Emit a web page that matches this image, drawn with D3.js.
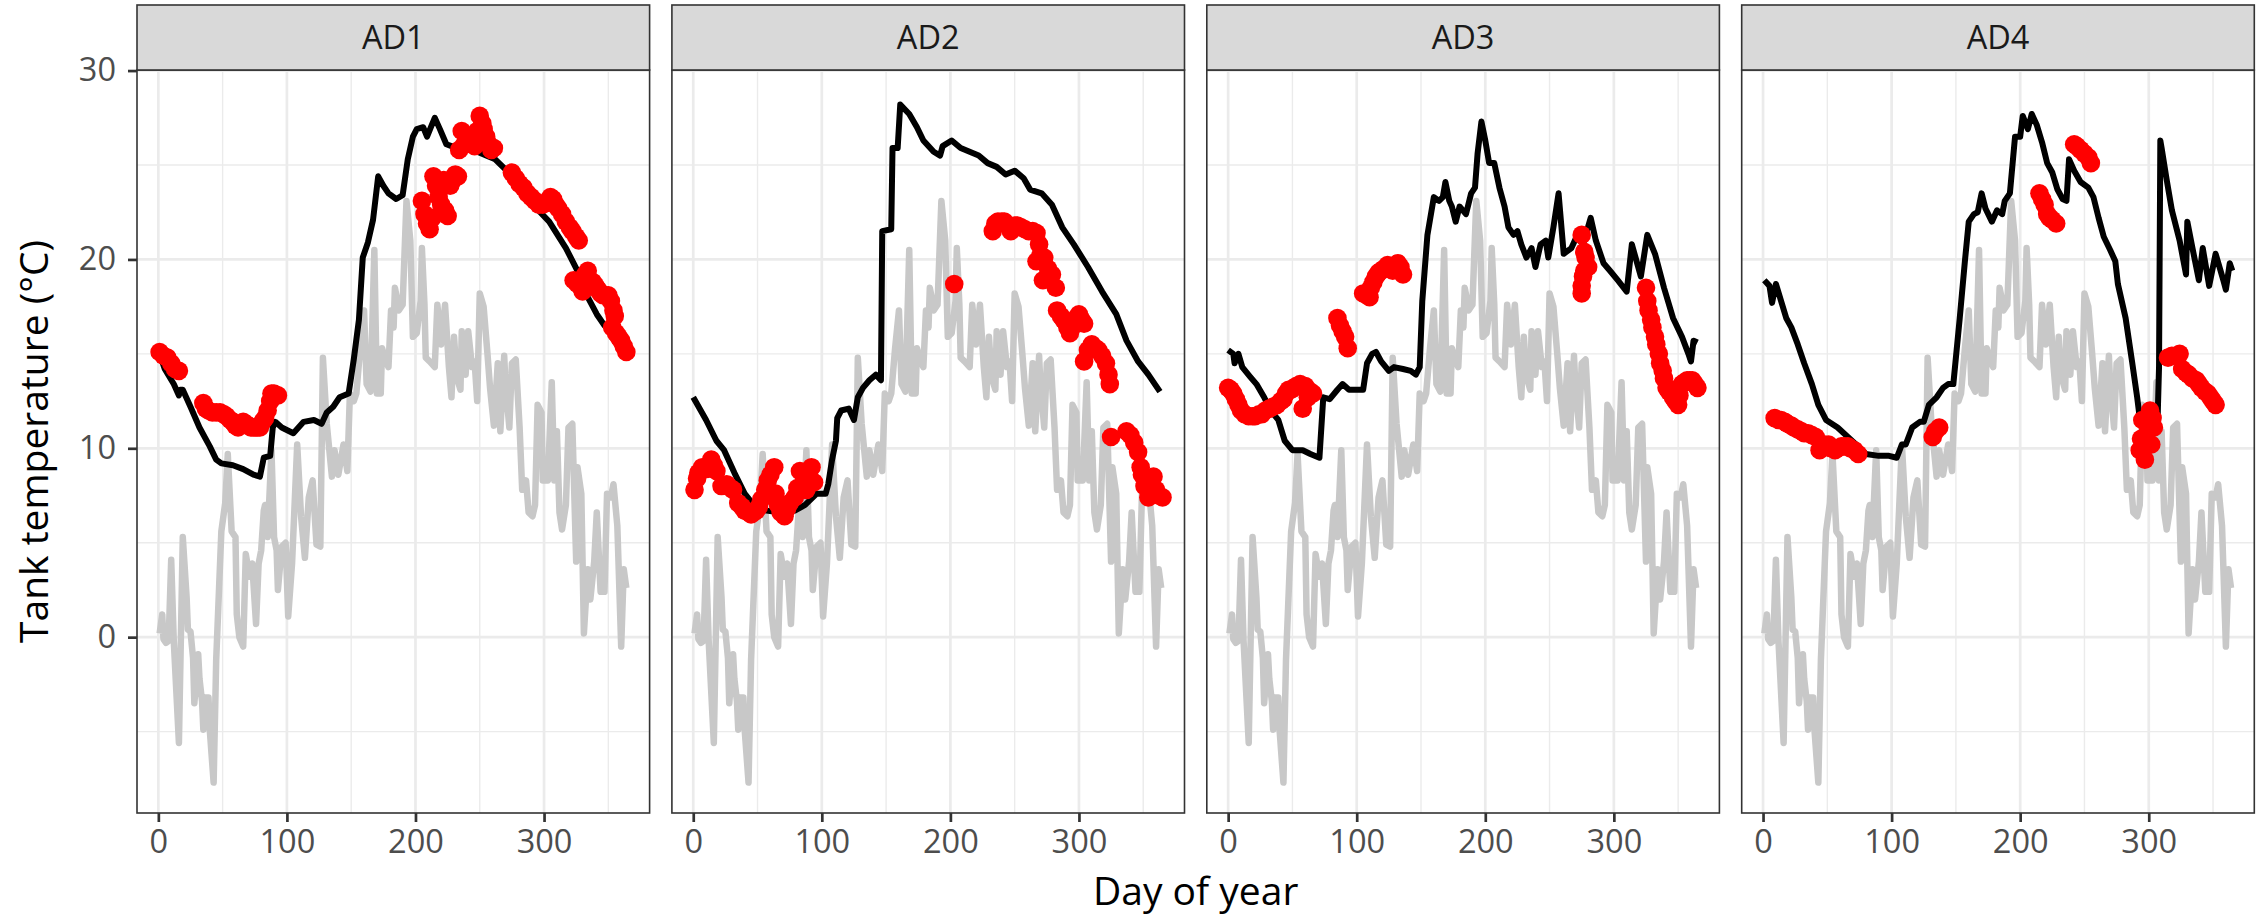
<!DOCTYPE html>
<html><head><meta charset="utf-8">
<script src="https://cdn.jsdelivr.net/npm/d3@7"></script>
<style>
body{margin:0;background:#fff;}
svg{display:block;font-family:"Open Sans",sans-serif;}
</style></head><body>
<svg id="chart" width="2259" height="916"></svg>
<script>
// ---------------- DATA ----------------
const panelNames = ["AD1", "AD2", "AD3", "AD4"];
const xTicks = [0, 100, 200, 300];
const yTicks = [0, 10, 20, 30];
const xTitle = "Day of year";
const yTitle = "Tank temperature (°C)";

// air temperature (grey line), identical in all panels: [day, °C]
const airTemp = [[1,0.2],[3,1.2],[4,-0.1],[6,-0.3],[8,-0.2],[10,4.1],[12,-0.2],[16,-5.6],[19,5.3],[22,2.1],[23,0.4],[25,0.3],[27,-1.1],[28,-3.5],[31,-0.9],[32,-2.2],[34,-3.4],[35,-4.9],[36,-3.2],[39,-3.2],[40,-4.9],[43,-7.7],[45,-1.2],[49,5.6],[52,7.1],[54,9.7],[57,5.6],[60,5.3],[61,1.2],[63,0],[66,-0.5],[68,4.4],[71,3.2],[73,3.9],[76,0.7],[78,3.9],[80,4.6],[82,6.7],[83,7.0],[85,5.3],[88,9.9],[90,5.3],[92,4.6],[93,2.5],[96,4.8],[99,5.0],[101,1.1],[104,3.9],[108,10.2],[111,6.4],[114,4.2],[117,7.4],[120,8.3],[123,4.9],[126,4.8],[128,14.8],[131,11.3],[135,8.5],[137,9.9],[140,8.6],[144,10.2],[147,8.8],[149,12.9],[152,12.5],[154,12.9],[157,15.3],[160,17.3],[162,13.4],[165,13.0],[168,20.5],[170,12.9],[173,12.9],[174,15.3],[177,14.6],[179,14.3],[181,17.3],[183,16.4],[184,18.5],[186,17.8],[187,17.3],[190,17.6],[193,23.1],[196,21.0],[198,15.9],[201,16.1],[204,17.8],[205,20.6],[207,17.6],[208,14.8],[211,14.6],[215,14.3],[217,17.6],[220,15.5],[223,17.6],[226,14.3],[228,12.7],[230,15.9],[232,13.8],[235,13.1],[236,16.2],[239,13.9],[241,16.2],[244,14.3],[246,14.6],[248,12.5],[250,18.2],[253,17.5],[256,15.0],[258,13.2],[261,11.2],[264,14.5],[266,10.9],[269,14.9],[270,13.4],[273,11.1],[275,14.5],[278,14.7],[281,11.1],[283,7.8],[286,8.3],[288,6.6],[291,6.4],[293,7.0],[295,12.3],[298,11.9],[299,8.3],[303,8.3],[305,11.8],[306,13.5],[308,8.3],[310,10.9],[312,6.6],[314,5.7],[317,7.0],[319,11.1],[322,11.3],[325,4.0],[326,9.0],[329,7.6],[331,0.2],[334,3.6],[336,2.0],[339,4.0],[341,6.6],[344,2.4],[347,2.4],[349,7.6],[352,7.4],[354,8.1],[357,5.9],[360,-0.5],[362,3.6],[364,2.6]];

// modelled tank temperature (black line): [day, °C]
const modelAD1 = [[3,14.6],[5,14.2],[12,13.4],[16,12.8],[17,13.1],[19,13.1],[25,12.2],[32,11.1],[40,10.1],[45,9.4],[49,9.2],[58,9.1],[66,8.9],[74,8.6],[79,8.5],[82,9.5],[87,9.6],[89,11.1],[91,11.4],[96,11.1],[105,10.8],[113,11.4],[121,11.5],[127,11.3],[131,11.9],[136,12.2],[141,12.7],[148,12.9],[152,14.7],[156,16.8],[159,20.1],[163,20.9],[167,22.1],[171,24.4],[175,23.9],[179,23.5],[185,23.2],[190,23.4],[194,25.3],[198,26.5],[201,26.9],[206,27.0],[209,26.5],[212,27.0],[215,27.5],[219,26.9],[224,26.1],[228,26.0],[235,25.8],[245,25.8],[255,25.5],[262,25.3],[271,24.7],[280,24.0],[290,23.2],[297,22.5],[304,22.0],[317,20.6],[326,19.4],[334,18.0],[341,17.1],[347,16.5],[355,16.0],[365,15.2]];
const modelAD2 = [[0,12.7],[10,11.5],[18,10.4],[24,9.9],[32,8.7],[40,7.6],[47,7.0],[57,6.7],[68,6.6],[79,6.7],[87,7.0],[96,7.6],[103,7.6],[105,8.1],[108,9.4],[111,10.4],[112,11.6],[115,12.0],[121,12.1],[125,11.5],[128,12.7],[132,13.2],[137,13.6],[142,13.9],[146,13.6],[147,21.5],[154,21.6],[155,25.9],[159,25.9],[161,28.2],[168,27.7],[174,27.0],[179,26.3],[187,25.7],[192,25.5],[194,26.0],[201,26.3],[208,25.9],[215,25.7],[222,25.5],[229,25.1],[236,24.9],[243,24.5],[250,24.7],[257,24.3],[262,23.7],[271,23.5],[279,22.9],[287,21.7],[296,20.8],[307,19.6],[318,18.3],[329,17.1],[337,15.7],[346,14.6],[354,13.9],[363,13.0]];
const modelAD3 = [[0,15.2],[4,15.0],[5,14.5],[8,15.0],[11,14.3],[17,13.8],[22,13.4],[28,12.7],[33,12.0],[39,11.5],[44,10.4],[50,9.9],[58,9.9],[64,9.7],[71,9.5],[74,12.7],[79,12.6],[85,13.1],[89,13.4],[94,13.1],[100,13.1],[105,13.1],[108,14.5],[112,15.0],[115,15.1],[119,14.6],[125,14.1],[129,14.3],[136,14.2],[142,14.1],[146,13.9],[149,14.3],[151,17.8],[155,21.3],[160,23.3],[164,23.1],[167,23.3],[169,24.1],[172,23.1],[174,22.8],[177,22.0],[180,22.8],[185,22.4],[189,23.5],[192,23.8],[194,25.6],[197,27.3],[200,26.3],[203,25.1],[207,25.1],[211,23.8],[215,22.8],[218,21.7],[222,21.3],[225,21.5],[228,20.8],[232,20.1],[236,20.6],[239,19.6],[243,20.8],[247,21.0],[249,20.1],[253,21.7],[257,23.5],[261,20.3],[267,20.6],[271,21.2],[276,20.8],[282,22.2],[286,21.0],[292,19.8],[297,19.4],[303,18.9],[310,18.3],[314,20.8],[321,19.1],[326,21.3],[332,20.3],[339,18.5],[346,16.9],[353,15.9],[358,15.0],[360,14.6],[362,15.7],[365,15.6]];
const modelAD4 = [[1,18.9],[5,18.6],[7,17.7],[10,18.7],[14,17.8],[18,16.9],[22,16.4],[27,15.5],[32,14.5],[38,13.4],[43,12.3],[49,11.5],[58,11.1],[66,10.6],[74,10.1],[80,9.7],[90,9.6],[98,9.6],[104,9.5],[108,10.2],[111,10.2],[116,11.1],[122,11.4],[125,11.4],[129,12.3],[135,12.7],[140,13.2],[144,13.4],[148,13.4],[149,14.1],[153,16.9],[157,19.9],[160,22.0],[164,22.4],[167,22.5],[170,23.5],[173,22.7],[178,22.0],[182,22.6],[186,22.4],[188,23.1],[192,23.5],[196,26.5],[200,26.5],[202,27.6],[206,26.9],[209,27.7],[213,27.1],[217,26.2],[221,25.1],[225,24.6],[229,23.7],[233,23.2],[236,23.1],[238,25.3],[242,24.7],[247,24.1],[253,23.8],[257,23.3],[261,22.2],[265,21.2],[270,20.5],[274,19.9],[276,18.7],[282,16.9],[287,14.6],[291,12.7],[293,11.6],[297,11.1],[303,11.5],[307,11.8],[308,14.3],[309,26.3],[310,25.9],[314,24.2],[318,22.6],[324,21.0],[329,19.2],[330,22.0],[334,20.6],[339,18.9],[342,20.6],[347,18.6],[352,20.3],[358,18.9],[360,18.4],[363,19.8],[365,19.4]];

// observed tank temperature (red points): [day, °C]
const obsAD1 = [[1,15.1],[4,14.9],[7,14.8],[10,14.5],[13,14.2],[16,14.1],[35,12.4],[37,12.1],[39,12.0],[42,11.9],[45,11.9],[48,11.9],[51,11.8],[53,11.7],[56,11.5],[58,11.4],[60,11.2],[62,11.1],[64,11.3],[66,11.4],[68,11.3],[70,11.2],[72,11.1],[74,11.1],[77,11.1],[79,11.1],[81,11.4],[83,11.6],[85,12.0],[87,12.5],[88,12.9],[90,12.9],[93,12.8],[205,23.1],[207,22.4],[209,21.9],[211,21.6],[213,22.2],[214,24.4],[216,23.9],[218,23.3],[220,22.9],[222,24.2],[223,22.6],[225,22.3],[227,23.9],[229,24.2],[231,24.5],[233,24.4],[234,25.8],[236,26.8],[238,26.1],[240,26.3],[242,26.5],[244,26.2],[246,26.0],[248,26.8],[250,27.6],[252,27.2],[253,26.9],[255,26.5],[257,26.1],[259,25.8],[261,25.9],[275,24.6],[278,24.3],[281,24.0],[284,23.8],[287,23.5],[290,23.3],[293,23.1],[296,22.9],[299,22.9],[302,23.0],[305,23.3],[307,23.2],[309,22.9],[311,22.7],[314,22.4],[317,22.0],[320,21.7],[322,21.5],[325,21.2],[327,21.0],[323,18.9],[326,18.7],[328,18.6],[330,18.3],[332,19.2],[334,19.4],[336,18.8],[338,18.8],[340,18.6],[342,18.4],[344,18.2],[346,18.1],[348,18.1],[350,18.1],[352,17.8],[354,17.3],[355,17.0],[353,16.4],[356,16.1],[358,15.9],[360,15.7],[362,15.4],[364,15.1]];
const obsAD2 = [[1,7.8],[3,8.4],[4,8.7],[7,9.0],[10,8.9],[14,9.4],[16,9.1],[18,8.8],[22,8.0],[26,8.1],[29,7.9],[31,7.8],[35,7.1],[38,6.9],[40,6.7],[43,6.6],[45,6.5],[47,6.6],[49,6.7],[51,6.9],[53,7.3],[56,7.8],[58,8.3],[60,8.6],[63,9.0],[64,7.6],[66,7.0],[68,6.6],[71,6.4],[73,6.8],[75,7.1],[79,7.4],[81,7.9],[83,8.8],[86,8.5],[88,7.8],[90,8.6],[92,9.0],[94,8.2],[203,18.7],[233,21.5],[235,21.9],[237,22.0],[240,22.0],[242,22.0],[245,21.8],[247,21.5],[250,21.8],[252,21.8],[255,21.7],[258,21.6],[261,21.5],[264,21.5],[267,21.4],[269,20.8],[267,19.9],[270,20.2],[273,20.1],[272,18.9],[276,19.5],[279,19.2],[282,18.5],[283,17.3],[286,17.0],[288,16.8],[291,16.4],[293,16.1],[296,16.5],[298,16.9],[300,17.1],[302,16.8],[304,16.6],[304,14.6],[307,15.2],[310,15.5],[313,15.3],[315,15.2],[318,14.9],[321,14.5],[323,13.9],[324,13.4],[325,10.6],[337,10.9],[340,10.7],[343,10.3],[346,9.8],[348,9.0],[349,8.6],[351,8.0],[354,7.4],[356,8.1],[358,8.5],[360,7.8],[362,7.5],[365,7.4]];
const obsAD3 = [[0,13.2],[2,13.1],[4,12.9],[6,12.6],[8,12.3],[10,12.0],[13,11.8],[16,11.7],[19,11.7],[21,11.7],[24,11.8],[26,11.8],[29,12.0],[32,12.1],[35,12.2],[38,12.3],[41,12.5],[43,12.6],[45,12.9],[47,13.1],[49,13.1],[51,13.2],[53,13.3],[56,13.4],[58,12.1],[58,13.3],[60,13.3],[62,12.7],[64,13.0],[66,12.9],[85,16.9],[87,16.5],[89,16.2],[91,15.9],[93,15.3],[105,18.2],[108,18.1],[110,18.0],[111,18.5],[113,18.8],[115,19.1],[117,19.3],[119,19.4],[121,19.5],[124,19.7],[126,19.5],[128,19.4],[130,19.6],[132,19.8],[134,19.6],[136,19.2],[275,21.3],[277,20.4],[278,20.1],[280,19.6],[277,19.4],[276,19.1],[275,18.6],[275,18.2],[325,18.5],[326,17.8],[327,17.3],[329,16.8],[330,16.4],[332,15.9],[333,15.5],[335,15.0],[336,14.5],[338,14.1],[339,13.7],[341,13.2],[343,13.0],[346,12.7],[348,12.5],[350,12.3],[351,12.8],[353,13.4],[355,13.5],[357,13.6],[359,13.6],[361,13.6],[363,13.4],[365,13.2]];
const obsAD4 = [[9,11.6],[12,11.5],[14,11.5],[17,11.4],[19,11.3],[22,11.2],[24,11.1],[27,11.0],[30,10.9],[32,10.8],[35,10.8],[38,10.7],[41,10.6],[44,9.9],[46,10.1],[48,10.2],[51,10.2],[53,10.0],[56,9.9],[58,10.0],[61,10.1],[63,10.1],[66,10.1],[68,10.0],[71,9.9],[74,9.7],[132,10.6],[134,10.9],[137,11.1],[215,23.5],[217,23.2],[219,22.9],[221,22.4],[223,22.2],[225,22.1],[228,21.9],[242,26.1],[244,26.0],[247,25.8],[250,25.6],[253,25.4],[255,25.1],[293,9.9],[294,10.5],[295,11.5],[296,10.4],[297,9.4],[298,10.7],[300,11.4],[301,12.0],[303,11.6],[304,11.1],[302,10.2],[315,14.8],[318,14.9],[321,14.9],[324,15.0],[326,14.2],[329,14.0],[331,13.9],[334,13.7],[337,13.6],[339,13.4],[341,13.2],[344,13.0],[346,12.9],[348,12.7],[350,12.5],[352,12.3]];

const modelData = [modelAD1, modelAD2, modelAD3, modelAD4];
const obsData = [obsAD1, obsAD2, obsAD3, obsAD4];

// ---------------- LAYOUT ----------------
const panelLeft0 = 137, panelStep = 534.9, panelW = 512.6;
const panelTop = 70, panelBottom = 813, stripTop = 5;
const fontAxis = 32.5, fontTitle = 39;

const svg = d3.select("#chart");
svg.append("rect").attr("width", 2259).attr("height", 916).attr("fill", "#fff");

const y = d3.scaleLinear().domain([-9.31, 30.03]).range([panelBottom, panelTop]);
const yMinor = [-5, 5, 15, 25];
const xMinor = [50, 150, 250, 350];

const defs = svg.append("defs");

panelNames.forEach((name, i) => {
  const x0 = panelLeft0 + i * panelStep;
  const x = d3.scaleLinear().domain([-16.6, 382.1]).range([x0, x0 + panelW]);
  const g = svg.append("g");

  defs.append("clipPath").attr("id", "clip" + i)
    .append("rect").attr("x", x0).attr("y", panelTop).attr("width", panelW).attr("height", panelBottom - panelTop);

  // grid
  const grid = g.append("g");
  grid.selectAll("line.ymin").data(yMinor).join("line")
    .attr("x1", x0).attr("x2", x0 + panelW).attr("y1", d => y(d)).attr("y2", d => y(d))
    .attr("stroke", "#EBEBEB").attr("stroke-width", 1.4);
  grid.selectAll("line.xmin").data(xMinor).join("line")
    .attr("y1", panelTop).attr("y2", panelBottom).attr("x1", d => x(d)).attr("x2", d => x(d))
    .attr("stroke", "#EBEBEB").attr("stroke-width", 1.4);
  grid.selectAll("line.ymaj").data(yTicks).join("line")
    .attr("x1", x0).attr("x2", x0 + panelW).attr("y1", d => y(d)).attr("y2", d => y(d))
    .attr("stroke", "#EBEBEB").attr("stroke-width", 2.7);
  grid.selectAll("line.xmaj").data(xTicks).join("line")
    .attr("y1", panelTop).attr("y2", panelBottom).attr("x1", d => x(d)).attr("x2", d => x(d))
    .attr("stroke", "#EBEBEB").attr("stroke-width", 2.7);

  const data = g.append("g").attr("clip-path", "url(#clip" + i + ")");
  const line = d3.line().x(d => x(d[0])).y(d => y(d[1]));
  data.append("path").datum(airTemp).attr("d", line)
    .attr("fill", "none").attr("stroke", "#C8C8C8").attr("stroke-width", 6.5)
    .attr("stroke-linejoin", "round");
  data.append("path").datum(modelData[i]).attr("d", line)
    .attr("fill", "none").attr("stroke", "#000").attr("stroke-width", 6)
    .attr("stroke-linejoin", "round");
  data.selectAll("circle").data(obsData[i]).join("circle")
    .attr("cx", d => x(d[0])).attr("cy", d => y(d[1])).attr("r", 9.3)
    .attr("fill", "#FF0000");

  // border
  g.append("rect").attr("x", x0).attr("y", panelTop).attr("width", panelW).attr("height", panelBottom - panelTop)
    .attr("fill", "none").attr("stroke", "#333333").attr("stroke-width", 1.6);

  // strip
  g.append("rect").attr("x", x0).attr("y", stripTop).attr("width", panelW).attr("height", panelTop - stripTop)
    .attr("fill", "#D9D9D9").attr("stroke", "#333333").attr("stroke-width", 1.6);
  g.append("text").attr("x", x0 + panelW / 2).attr("y", (stripTop + panelTop) / 2).attr("dy", "0.36em")
    .attr("text-anchor", "middle").attr("font-size", fontAxis).attr("fill", "#1A1A1A").text(name);

  // x axis
  const xa = g.append("g").attr("transform", `translate(0,${panelBottom})`)
    .call(d3.axisBottom(x).tickValues(xTicks).tickSize(9).tickPadding(8).tickFormat(d3.format("d")));
  xa.select(".domain").remove();
  xa.selectAll("line").attr("stroke", "#333333").attr("stroke-width", 2.7);
  xa.selectAll("text").attr("font-size", fontAxis).attr("fill", "#4D4D4D").attr("font-family", "Open Sans");

  if (i === 0) {
    const ya = g.append("g").attr("transform", `translate(${x0},0)`)
      .call(d3.axisLeft(y).tickValues(yTicks).tickSize(9).tickPadding(12).tickFormat(d3.format("d")));
    ya.select(".domain").remove();
    ya.selectAll("line").attr("stroke", "#333333").attr("stroke-width", 2.7);
    ya.selectAll("text").attr("font-size", fontAxis).attr("fill", "#4D4D4D").attr("font-family", "Open Sans");
  }
});

// titles
svg.append("text").attr("x", (panelLeft0 + panelLeft0 + 3 * panelStep + panelW) / 2).attr("y", 904.5)
  .attr("text-anchor", "middle").attr("font-size", fontTitle).attr("fill", "#000").text(xTitle);
svg.append("text").attr("transform", `translate(48,${(panelTop + panelBottom) / 2}) rotate(-90)`)
  .attr("text-anchor", "middle").attr("font-size", fontTitle).attr("fill", "#000").text(yTitle);
</script>
</body></html>
